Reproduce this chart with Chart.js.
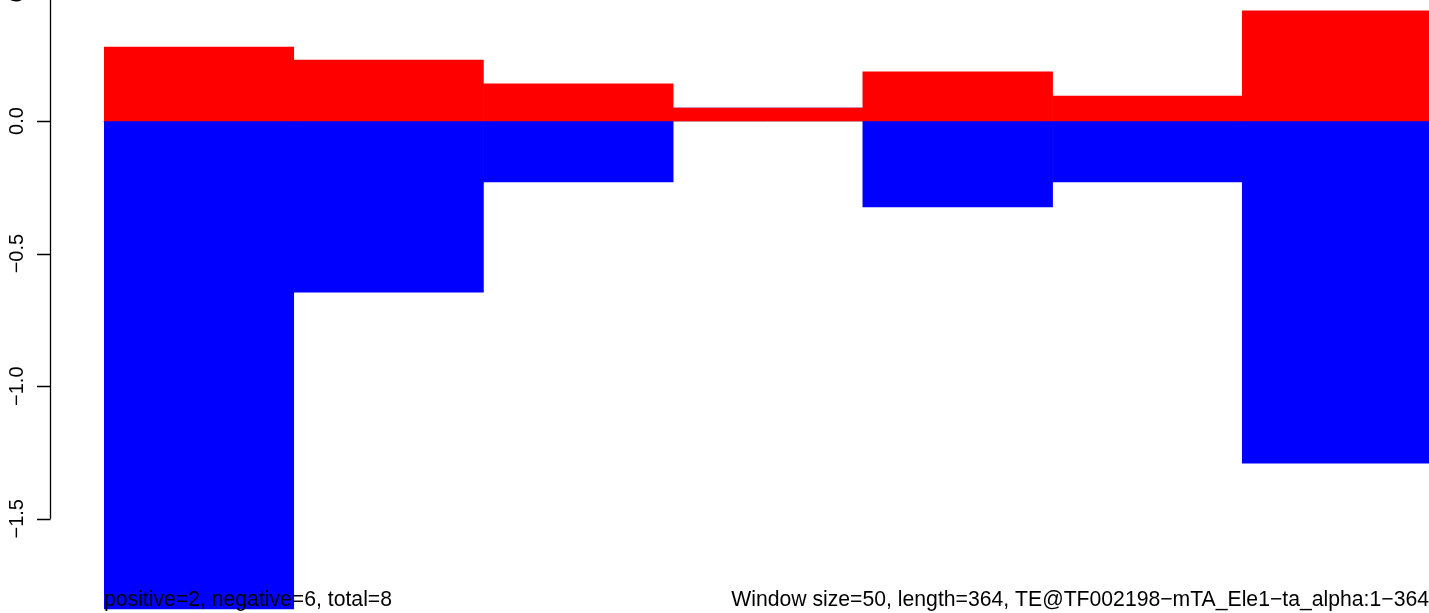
<!DOCTYPE html>
<html>
<head>
<meta charset="utf-8">
<script src="https://cdn.jsdelivr.net/npm/chart.js@4.4.0/dist/chart.umd.min.js"></script>
<style>
  html, body { margin: 0; padding: 0; background: #fff; overflow: hidden; }
  #wrap { position: absolute; left: 0; top: 0; width: 1432px; height: 613px; }
</style>
</head>
<body>
<div id="wrap"><canvas id="chart" width="1432" height="613"></canvas></div>
<script>
// windows of 50 along the element (364 long)
const windows = ["1-50", "51-100", "101-150", "151-200", "201-250", "251-300", "301-350"];
const positiveValues = [0.279, 0.230, 0.140, 0.049, 0.185, 0.094, 0.415];
const negativeValues = [-1.84, -0.645, -0.230, 0, -0.324, -0.230, -1.290];
const yTickValues = [0.5, 0.0, -0.5, -1.0, -1.5];
const yTickLabels = ["0.5", "0.0", "\u22120.5", "\u22121.0", "\u22121.5"];
const footLeft = "positive=2, negative=6, total=8";
const footRight = "Window size=50, length=364, TE@TF002198\u2212mTA_Ele1\u2212ta_alpha:1\u2212364";

const fontFamily = "'Liberation Sans', Arial, Helvetica, sans-serif";

// R style left axis + zero line + bottom notes
const rStyle = {
    id: "rStyle",
    beforeDatasetsDraw(chart) {
        const ctx = chart.ctx;
        const y0 = Math.round(chart.scales.y.getPixelForValue(0)) + 0.5;
        ctx.save();
        ctx.strokeStyle = "#bebebe";
        ctx.lineWidth = 1;
        ctx.beginPath();
        ctx.moveTo(chart.chartArea.left - 1, y0);
        ctx.lineTo(chart.chartArea.right, y0);
        ctx.stroke();
        ctx.restore();
    },
    afterDraw(chart) {
        const ctx = chart.ctx;
        const ys = chart.scales.y;
        const axisX = 50.5;
        ctx.save();
        ctx.strokeStyle = "#000";
        ctx.lineWidth = 1.3;
        ctx.beginPath();
        ctx.moveTo(axisX, ys.getPixelForValue(yTickValues[0]));
        ctx.lineTo(axisX, ys.getPixelForValue(yTickValues[yTickValues.length - 1]));
        yTickValues.forEach(v => {
            const py = Math.round(ys.getPixelForValue(v)) + 0.5;
            ctx.moveTo(axisX, py);
            ctx.lineTo(37, py);
        });
        ctx.stroke();

        ctx.fillStyle = "#000";
        ctx.font = "20px " + fontFamily;
        ctx.textAlign = "center";
        ctx.textBaseline = "alphabetic";
        yTickValues.forEach((v, i) => {
            ctx.save();
            ctx.translate(23, ys.getPixelForValue(v));
            ctx.rotate(-Math.PI / 2);
            ctx.fillText(yTickLabels[i], 0, 0);
            ctx.restore();
        });

        ctx.font = "21.2px " + fontFamily;
        ctx.textAlign = "left";
        ctx.fillText(footLeft, 104, 606);
        ctx.textAlign = "right";
        ctx.fillText(footRight, 1429, 606);
        ctx.restore();
    }
};

new Chart(document.getElementById("chart"), {
    type: "bar",
    data: {
        labels: windows,
        datasets: [{
            label: "positive",
            data: positiveValues,
            backgroundColor: "#ff0000",
            borderWidth: 0
        }, {
            label: "negative",
            data: negativeValues,
            backgroundColor: "#0000ff",
            borderWidth: 0
        }]
    },
    options: {
        responsive: false,
        animation: false,
        devicePixelRatio: 1,
        layout: { padding: { left: 104, right: 0, top: 0, bottom: 0 } },
        datasets: { bar: { categoryPercentage: 1, barPercentage: 1 } },
        scales: {
            x: { stacked: true, display: false },
            y: { stacked: true, display: false, min: -1.8552, max: 0.4563 }
        },
        plugins: {
            legend: { display: false },
            tooltip: { enabled: false }
        }
    },
    plugins: [rStyle]
});
</script>
</body>
</html>
